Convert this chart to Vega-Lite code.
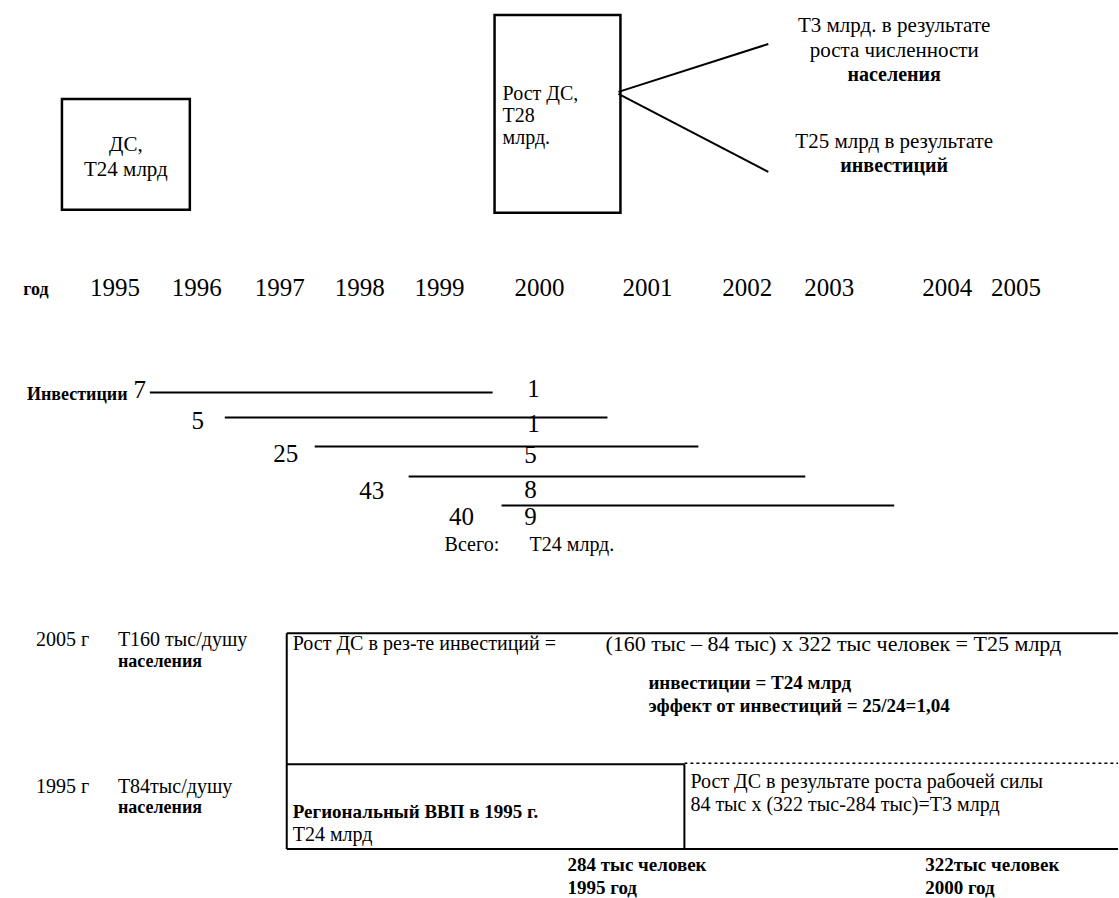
{
  "$schema": "https://vega.github.io/schema/vega-lite/v6.json",
  "width": 1119,
  "height": 898,
  "autosize": {"type": "fit", "contains": "padding"},
  "padding": 0,
  "background": "white",
  "config": {"view": {"stroke": null}},
  "datasets": {
    "boxes": [
      {"name": "ДС", "x": 62, "x2": 190, "y": 99, "y2": 210},
      {"name": "Рост ДС", "x": 495, "x2": 621, "y": 15, "y2": 213}
    ],
    "lines": [
      {"seg": "d1", "x": 619, "y": 92, "x2": 769, "y2": 44},
      {"seg": "d2", "x": 619, "y": 94, "x2": 769, "y2": 172},
      {"seg": "i1", "x": 150, "y": 393, "x2": 493, "y2": 393},
      {"seg": "i2", "x": 225, "y": 418, "x2": 608, "y2": 418},
      {"seg": "i3", "x": 315, "y": 447, "x2": 699, "y2": 447},
      {"seg": "i4", "x": 409, "y": 477, "x2": 806, "y2": 477},
      {"seg": "i5", "x": 502, "y": 506, "x2": 895, "y2": 506},
      {"seg": "b1", "x": 287, "y": 634, "x2": 1119, "y2": 634},
      {"seg": "b2", "x": 287, "y": 634, "x2": 287, "y2": 850},
      {"seg": "b3", "x": 287, "y": 765, "x2": 685, "y2": 765},
      {"seg": "b4", "x": 685, "y": 765, "x2": 685, "y2": 850},
      {"seg": "b5", "x": 287, "y": 850, "x2": 1119, "y2": 850}
    ],
    "dashed": [
      {"seg": "b6", "x": 685, "y": 764, "x2": 1119, "y2": 764}
    ],
    "centerText": [
      {"t": "ДС,", "x": 126, "y": 145},
      {"t": "Т24 млрд", "x": 126, "y": 170},
      {"t": "Т3 млрд. в результате", "x": 895, "y": 26},
      {"t": "роста численности", "x": 895, "y": 51},
      {"t": "Т25 млрд в результате", "x": 895, "y": 142}
    ],
    "centerBold": [
      {"t": "населения", "x": 895, "y": 75},
      {"t": "инвестиций", "x": 895, "y": 166}
    ],
    "leftText": [
      {"t": "Рост ДС,", "x": 503, "y": 94},
      {"t": "Т28", "x": 503, "y": 116},
      {"t": "млрд.", "x": 503, "y": 138},
      {"t": "Всего:", "x": 445, "y": 546},
      {"t": "Т24 млрд.", "x": 530, "y": 546},
      {"t": "2005 г", "x": 36, "y": 641},
      {"t": "Т160 тыс/душу", "x": 118, "y": 641},
      {"t": "Рост ДС в рез-те инвестиций =", "x": 293, "y": 645},
      {"t": "1995 г", "x": 36, "y": 788},
      {"t": "Т84тыс/душу", "x": 118, "y": 788},
      {"t": "Т24 млрд", "x": 293, "y": 836},
      {"t": "Рост ДС в результате роста рабочей силы", "x": 691, "y": 783},
      {"t": "84 тыс х (322 тыс-284 тыс)=Т3 млрд", "x": 691, "y": 806}
    ],
    "leftBold": [
      {"t": "инвестиции = Т24 млрд", "x": 649, "y": 684},
      {"t": "эффект от инвестиций = 25/24=1,04", "x": 649, "y": 707},
      {"t": "Региональный ВВП в 1995 г.", "x": 293, "y": 813},
      {"t": "284 тыс человек", "x": 568, "y": 866},
      {"t": "1995 год", "x": 568, "y": 889},
      {"t": "322тыс человек", "x": 926, "y": 866},
      {"t": "2000 год", "x": 926, "y": 889}
    ],
    "wideText": [
      {"t": "(160 тыс – 84 тыс) х 322 тыс человек = Т25 млрд", "x": 606, "y": 645}
    ],
    "boldText": [
      {"t": "Инвестиции", "x": 27, "y": 395},
      {"t": "населения", "x": 118, "y": 663},
      {"t": "населения", "x": 118, "y": 809}
    ],
    "years": [
      {"t": "1995", "x": 115, "y": 288},
      {"t": "1996", "x": 197, "y": 288},
      {"t": "1997", "x": 280, "y": 288},
      {"t": "1998", "x": 360, "y": 288},
      {"t": "1999", "x": 440, "y": 288},
      {"t": "2000", "x": 540, "y": 288},
      {"t": "2001", "x": 648, "y": 288},
      {"t": "2002", "x": 748, "y": 288},
      {"t": "2003", "x": 830, "y": 288},
      {"t": "2004", "x": 948, "y": 288},
      {"t": "2005", "x": 1017, "y": 288}
    ],
    "god": [
      {"t": "год", "x": 36, "y": 290}
    ],
    "nums": [
      {"t": "7", "x": 140, "y": 390},
      {"t": "1", "x": 534, "y": 389},
      {"t": "5", "x": 198, "y": 421},
      {"t": "1", "x": 534, "y": 424},
      {"t": "25", "x": 286, "y": 455},
      {"t": "5", "x": 531, "y": 456},
      {"t": "43", "x": 372, "y": 492},
      {"t": "8", "x": 531, "y": 491},
      {"t": "40", "x": 462, "y": 518},
      {"t": "9", "x": 531, "y": 518}
    ]
  },
  "layer": [
    {
      "data": {"name": "boxes"},
      "mark": {"type": "rect", "fill": null, "stroke": "black", "strokeWidth": 2.5},
      "encoding": {
        "x": {"field": "x", "type": "quantitative", "scale": {"domain": [0, 1119], "nice": false, "zero": false}, "axis": null},
        "x2": {"field": "x2"},
        "y": {"field": "y", "type": "quantitative", "scale": {"domain": [0, 898], "nice": false, "zero": false, "reverse": true}, "axis": null},
        "y2": {"field": "y2"}
      }
    },
    {
      "data": {"name": "lines"},
      "mark": {"type": "rule", "color": "black", "strokeWidth": 2},
      "encoding": {
        "x": {"field": "x", "type": "quantitative"},
        "x2": {"field": "x2"},
        "y": {"field": "y", "type": "quantitative"},
        "y2": {"field": "y2"}
      }
    },
    {
      "data": {"name": "dashed"},
      "mark": {"type": "rule", "color": "black", "strokeWidth": 1.5, "strokeDash": [3, 3]},
      "encoding": {
        "x": {"field": "x", "type": "quantitative"},
        "x2": {"field": "x2"},
        "y": {"field": "y", "type": "quantitative"},
        "y2": {"field": "y2"}
      }
    },
    {
      "data": {"name": "centerText"},
      "mark": {"type": "text", "font": "Liberation Serif", "fontSize": 21, "align": "center", "baseline": "middle", "color": "black"},
      "encoding": {
        "x": {"field": "x", "type": "quantitative"},
        "y": {"field": "y", "type": "quantitative"},
        "text": {"field": "t"}
      }
    },
    {
      "data": {"name": "centerBold"},
      "mark": {"type": "text", "font": "Liberation Serif", "fontSize": 20, "fontWeight": "bold", "align": "center", "baseline": "middle", "color": "black"},
      "encoding": {
        "x": {"field": "x", "type": "quantitative"},
        "y": {"field": "y", "type": "quantitative"},
        "text": {"field": "t"}
      }
    },
    {
      "data": {"name": "leftText"},
      "mark": {"type": "text", "font": "Liberation Serif", "fontSize": 20, "align": "left", "baseline": "middle", "color": "black"},
      "encoding": {
        "x": {"field": "x", "type": "quantitative"},
        "y": {"field": "y", "type": "quantitative"},
        "text": {"field": "t"}
      }
    },
    {
      "data": {"name": "leftBold"},
      "mark": {"type": "text", "font": "Liberation Serif", "fontSize": 19, "fontWeight": "bold", "align": "left", "baseline": "middle", "color": "black"},
      "encoding": {
        "x": {"field": "x", "type": "quantitative"},
        "y": {"field": "y", "type": "quantitative"},
        "text": {"field": "t"}
      }
    },
    {
      "data": {"name": "wideText"},
      "mark": {"type": "text", "font": "Liberation Serif", "fontSize": 22, "align": "left", "baseline": "middle", "color": "black"},
      "encoding": {
        "x": {"field": "x", "type": "quantitative"},
        "y": {"field": "y", "type": "quantitative"},
        "text": {"field": "t"}
      }
    },
    {
      "data": {"name": "boldText"},
      "mark": {"type": "text", "font": "Liberation Serif", "fontSize": 18, "fontWeight": "bold", "align": "left", "baseline": "middle", "color": "black"},
      "encoding": {
        "x": {"field": "x", "type": "quantitative"},
        "y": {"field": "y", "type": "quantitative"},
        "text": {"field": "t"}
      }
    },
    {
      "data": {"name": "years"},
      "mark": {"type": "text", "font": "Liberation Serif", "fontSize": 25, "align": "center", "baseline": "middle", "color": "black"},
      "encoding": {
        "x": {"field": "x", "type": "quantitative"},
        "y": {"field": "y", "type": "quantitative"},
        "text": {"field": "t"}
      }
    },
    {
      "data": {"name": "god"},
      "mark": {"type": "text", "font": "Liberation Serif", "fontSize": 18, "fontWeight": "bold", "align": "center", "baseline": "middle", "color": "black"},
      "encoding": {
        "x": {"field": "x", "type": "quantitative"},
        "y": {"field": "y", "type": "quantitative"},
        "text": {"field": "t"}
      }
    },
    {
      "data": {"name": "nums"},
      "mark": {"type": "text", "font": "Liberation Serif", "fontSize": 25, "align": "center", "baseline": "middle", "color": "black"},
      "encoding": {
        "x": {"field": "x", "type": "quantitative"},
        "y": {"field": "y", "type": "quantitative"},
        "text": {"field": "t"}
      }
    }
  ]
}
